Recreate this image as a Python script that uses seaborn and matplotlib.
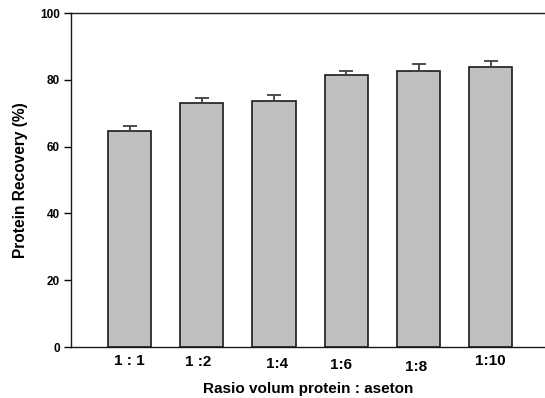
import numpy as np
import pandas as pd
import seaborn as sns
import matplotlib
matplotlib.use("Agg")
import matplotlib.pyplot as plt
from matplotlib.transforms import ScaledTranslation

# data
ratios = ["1 : 1", "1 :2", "1:4", "1:6", "1:8", "1:10"]
recovery = [64.7, 73.1, 73.6, 81.5, 82.7, 83.8]
recovery_err = [1.5, 1.4, 1.9, 1.0, 1.9, 1.7]
yticks = [0, 20, 40, 60, 80, 100]

df = pd.DataFrame({"ratio": ratios, "recovery": recovery})

sns.set_style("ticks")
plt.rcParams["font.family"] = ["Liberation Sans", "DejaVu Sans"]
plt.rcParams["font.weight"] = "bold"
plt.rcParams["text.color"] = "black"
plt.rcParams["axes.labelcolor"] = "black"
plt.rcParams["xtick.color"] = "black"
plt.rcParams["ytick.color"] = "black"

fig = plt.figure(figsize=(5.45, 3.98), dpi=100)
ax = fig.add_axes([71 / 545, 51 / 398, 1 - 71 / 545, 334 / 398])

sns.barplot(data=df, x="ratio", y="recovery", color="#c0c0c0", saturation=1,
            width=0.6, edgecolor="#1a1a1a", linewidth=1.2, ax=ax)

# upper error bars only
ax.errorbar(np.arange(len(ratios)), recovery,
            yerr=[np.zeros(len(ratios)), recovery_err],
            fmt="none", ecolor="#404040", elinewidth=1.3, capsize=5, capthick=1.3)

ax.set_ylim(0, 100)
ax.set_xlim(-0.81, 5.75)
ax.set_yticks(yticks)
ax.set_yticklabels([str(v) for v in yticks], fontsize=8.5, fontweight="bold")
ax.set_xticks(np.arange(len(ratios)))
ax.set_xticklabels(ratios, fontsize=11, fontweight="bold")
ax.tick_params(axis="x", length=0, pad=5)
ax.tick_params(axis="y", length=5, width=1, direction="out", pad=3)

# the original tick labels sit a little unevenly (pixel nudges)
nudges = [(0, 0), (-4, -1), (3, -3), (-5, -4), (-2, -6), (0, 0)]
for lab, (dx, dy) in zip(ax.get_xticklabels(), nudges):
    lab.set_transform(lab.get_transform() + ScaledTranslation(dx / 100, dy / 100, fig.dpi_scale_trans))

for side in ["left", "top", "bottom"]:
    ax.spines[side].set_visible(True)
    ax.spines[side].set_linewidth(1)
    ax.spines[side].set_color("#1a1a1a")
ax.spines["right"].set_visible(False)

ax.set_xlabel("Rasio volum protein : aseton", fontsize=11, fontweight="bold", labelpad=6)
ax.set_ylabel("Protein Recovery (%)", fontsize=11.2, fontweight="bold", labelpad=9)

fig.savefig("out.png", dpi=100)
